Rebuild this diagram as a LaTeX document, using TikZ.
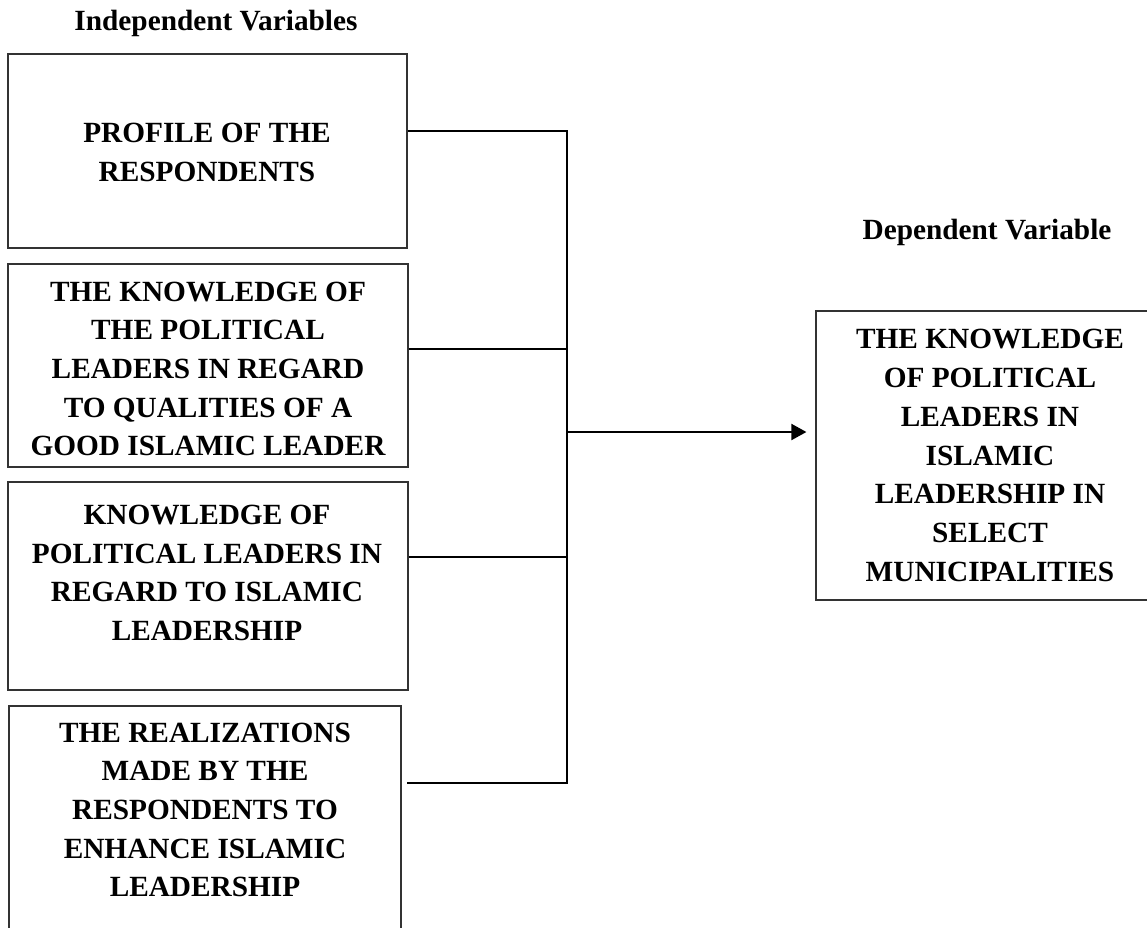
\documentclass[tikz,border=0pt]{standalone}
\usepackage{fontspec}
\setmainfont{Liberation Serif}
\usetikzlibrary{arrows.meta}
\tikzset{
  box/.style={draw=black!80, line width=1.2pt, rectangle, inner sep=0pt},
  txt/.style={align=center, inner sep=0pt, font=\bfseries\fontsize{29.3}{38.7}\selectfont},
  conn/.style={draw=black, line width=2pt},
  arr/.style={conn, -{Triangle[length=15pt,width=16pt]}}
}
\begin{document}
\begin{tikzpicture}[x=1pt,y=-1pt]
\useasboundingbox (0,0) rectangle (1147,927);
\clip (0,0) rectangle (1147,927);
% titles
\node[txt] (indep) at (216,23) {Independent Variables};
\node[txt] (dep) at (987,232) {Dependent Variable};
% boxes
\node[box, minimum width=399pt, minimum height=194pt] (b1) at (207.5,151) {};
\node[box, minimum width=400pt, minimum height=203pt] (b2) at (208,365.5) {};
\node[box, minimum width=400pt, minimum height=208pt] (b3) at (208,586) {};
\node[box, minimum width=392pt, minimum height=254pt] (b4) at (205,833) {};
\node[box, minimum width=349pt, minimum height=289pt] (rb) at (990.5,455.5) {};
% texts
\node[txt] (t1) at (207,152.5) {PROFILE OF THE\\RESPONDENTS};
\node[txt] (t2) at (208,369) {THE KNOWLEDGE OF\\THE POLITICAL\\LEADERS IN REGARD\\TO QUALITIES OF A\\GOOD ISLAMIC LEADER};
\node[txt] (t3) at (207,573) {KNOWLEDGE OF\\POLITICAL LEADERS IN\\REGARD TO ISLAMIC\\LEADERSHIP};
\node[txt] (t4) at (205,810) {THE REALIZATIONS\\MADE BY THE\\RESPONDENTS TO\\ENHANCE ISLAMIC\\LEADERSHIP};
\node[txt] (t5) at (990,455.5) {THE KNOWLEDGE\\OF POLITICAL\\LEADERS IN\\ISLAMIC\\LEADERSHIP IN\\SELECT\\MUNICIPALITIES};
% bus coordinates
\coordinate (busTop) at (567,131);
\coordinate (bus2) at (567,349);
\coordinate (bus3) at (567,557);
\coordinate (busBot) at (567,783);
\coordinate (j) at (567,432);
% connectors
\draw[conn] ([yshift=20pt]b1.east) -- (busTop) -- (busBot) -- ([xshift=5pt,yshift=50pt]b4.east);
\draw[conn] ([yshift=16.5pt]b2.east) -- (bus2);
\draw[conn] ([yshift=29pt]b3.east) -- (bus3);
\draw[arr, shorten >=9pt] (j) -- ([yshift=23.5pt]rb.west);
\end{tikzpicture}
\end{document}
